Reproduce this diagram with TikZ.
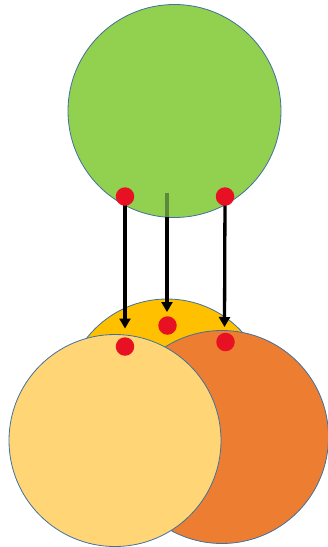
\documentclass[tikz,border=0pt]{standalone}
\usetikzlibrary{arrows.meta}
\definecolor{cgreen}{HTML}{92D050}
\definecolor{cgold}{HTML}{FFC000}
\definecolor{clight}{HTML}{FFD575}
\definecolor{corange}{HTML}{ED7D31}
\definecolor{cred}{HTML}{E81123}
\definecolor{cline}{HTML}{41719C}
\definecolor{cdkgreen}{HTML}{5C8A3A}
\begin{document}
\begin{tikzpicture}[x=1pt,y=-1pt,
  ball/.style={circle,draw=cline,line width=0.8pt,inner sep=0pt,minimum size=#1},
  dot/.style={circle,fill=cred,inner sep=0pt,minimum size=18.5pt},
  arr/.style={line width=3.3pt,-{Triangle[length=10pt,width=11pt]}}]
\useasboundingbox (0,0) rectangle (328,547);
% lower circles
\node[ball=204pt,fill=cgold] (yel) at (167,401) {};
\node[ball=213pt,fill=corange] (ora) at (222,437) {};
\node[ball=212pt,fill=clight] (lig) at (115,440.5) {};
\node[dot] (yd) at (167.5,325.5) {};
\node[dot] (ld) at (125,346.5) {};
\node[dot] (od) at (225.5,342) {};
% green circle
\node[ball=213pt,fill=cgreen] (grn) at (174.5,111) {};
\coordinate (gl0) at (125,196.5);
\coordinate (gr0) at (225,196.5);
\coordinate (ms) at (167,193);
\coordinate (mb) at (167,216.5);
\coordinate (tl) at (125,328.5);
\coordinate (tm) at (167,312);
\coordinate (tr) at (224.5,327);
\draw[line width=3.3pt,cdkgreen] (ms) -- (mb);
\draw[arr] (gl0) -- (tl);
\draw[arr] (mb) -- (tm);
\draw[arr] (gr0) -- (tr);
\node[dot] (gl) at (gl0) {};
\node[dot] (gr) at (gr0) {};
\end{tikzpicture}
\end{document}
